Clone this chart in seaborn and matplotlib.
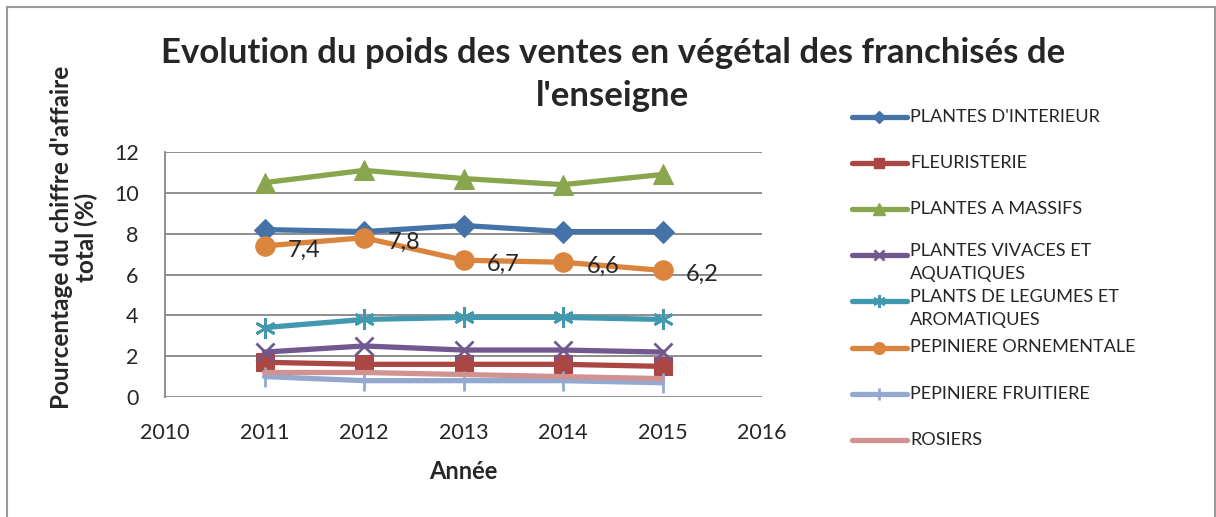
import seaborn as sns
import matplotlib.pyplot as plt
from matplotlib.lines import Line2D
from matplotlib.patches import Rectangle

years = [2011, 2012, 2013, 2014, 2015]

plantes_interieur = [8.2, 8.1, 8.4, 8.1, 8.1]
fleuristerie = [1.7, 1.6, 1.6, 1.6, 1.5]
plantes_massifs = [10.5, 11.1, 10.7, 10.4, 10.9]
plantes_vivaces = [2.2, 2.5, 2.3, 2.3, 2.2]
plants_legumes = [3.4, 3.8, 3.9, 3.9, 3.8]
pepiniere_ornementale = [7.4, 7.8, 6.7, 6.6, 6.2]
pepiniere_fruitiere = [1.0, 0.8, 0.8, 0.8, 0.7]
rosiers = [1.2, 1.2, 1.1, 1.0, 0.9]

labels = ["PLANTES D'INTERIEUR", "FLEURISTERIE", "PLANTES A MASSIFS",
          "PLANTES VIVACES ET\nAQUATIQUES", "PLANTS DE LEGUMES ET\nAROMATIQUES",
          "PEPINIERE ORNEMENTALE", "PEPINIERE FRUITIERE", "ROSIERS"]
series = [plantes_interieur, fleuristerie, plantes_massifs, plantes_vivaces,
          plants_legumes, pepiniere_ornementale, pepiniere_fruitiere, rosiers]
colors = ['#4572A7', '#AA4643', '#89A54E', '#71588F', '#4198AF', '#DB843D', '#93A9CF', '#D19392']
markers = ['D', 's', '^', 'x', (6, 2, 0), 'o', '|', None]
msizes = [11, 13, 14, 13, 15, 14, 14, 0]

title_lines = ["Evolution du poids des ventes en végétal des franchisés de", "l'enseigne"]

sns.set_style('white')
plt.rcParams['font.family'] = ['Lato', 'DejaVu Sans']

fig = plt.figure(figsize=(12.16, 5.17), dpi=100)
ax = fig.add_axes([165 / 1216, 1 - 397 / 517, (762 - 165) / 1216, (397 - 152) / 517])


def marker_kw(i, scale=1.0):
    m = markers[i]
    if m is None:
        return {}
    kw = dict(marker=m, markersize=msizes[i] * scale, markeredgecolor=colors[i],
              markerfacecolor=colors[i])
    if m in ('x', '|') or isinstance(m, tuple):
        kw['markeredgewidth'] = 2
    return kw


for i in range(len(series)):
    sns.lineplot(x=years, y=series[i], ax=ax, color=colors[i], linewidth=3.8, **marker_kw(i))

for x, y in zip(years, pepiniere_ornementale):
    ax.annotate(str(y).replace('.', ','), (x, y), xytext=(17, -3), textcoords='offset points',
                ha='left', va='center', fontsize=17)

ax.set_xlim(2010, 2016)
ax.set_ylim(0, 12)
ax.set_yticks(range(0, 13, 2))
ax.set_xticks(range(2010, 2017))
ax.tick_params(axis='y', labelsize=15.5, length=0, pad=19)
ax.tick_params(axis='x', labelsize=15.5, length=0, pad=19)
ax.yaxis.grid(True, color='#868686', linewidth=1.3)
for s in ['top', 'right', 'bottom']:
    ax.spines[s].set_visible(False)
ax.spines['left'].set_color('#868686')
ax.spines['left'].set_linewidth(1.3)
ax.set_xlabel('Année', fontsize=17, fontweight='bold', labelpad=12)
ax.set_ylabel("Pourcentage du chiffre d'affaire\ntotal (%)", fontsize=17.5, fontweight='bold',
              linespacing=1.1)
ax.yaxis.set_label_coords(-0.112, 0.653)

fig.text(0.504, 1 - 53 / 517, title_lines[0], ha='center', va='center', fontsize=25, fontweight='bold')
fig.text(0.504, 1 - 96 / 517, title_lines[1], ha='center', va='center', fontsize=25, fontweight='bold')

# legend drawn by hand to keep Excel's wrapped entries
for k, lab in enumerate(labels):
    yf = 1 - (117 + k * 46.1) / 517
    kw = marker_kw(k, 0.6)
    if kw:
        kw['markevery'] = [1]
    fig.add_artist(Line2D([852 / 1216, 879 / 1216, 907 / 1216], [yf, yf, yf], color=colors[k],
                          linewidth=3.8, transform=fig.transFigure, **kw))
    if '\n' in lab:
        fig.text(910 / 1216, yf + 12 / 517, lab, ha='left', va='top', fontsize=13.1, linespacing=1.5)
    else:
        fig.text(910 / 1216, yf, lab, ha='left', va='center', fontsize=13.1)

fig.add_artist(Rectangle((7 / 1216, -0.05), 1208 / 1216, 1.05 - 7 / 517, fill=False,
                         edgecolor='#9A9A9A', linewidth=1.5, transform=fig.transFigure))

fig.savefig('out.png', dpi=100)
